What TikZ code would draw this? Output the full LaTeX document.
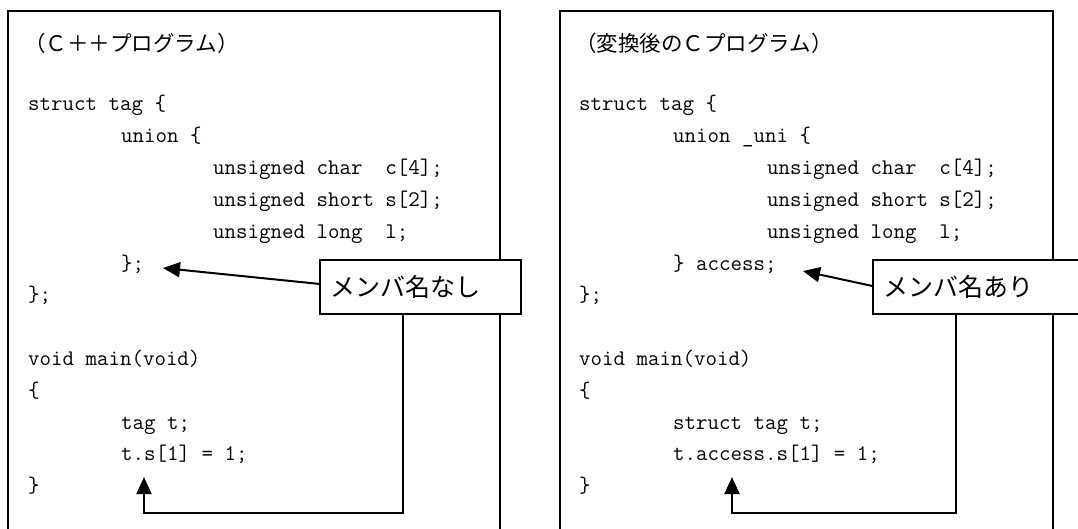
\documentclass[tikz,border=0pt]{standalone}
\usepackage{fontspec}
\newfontfamily\jp{Noto Sans CJK JP}
\usetikzlibrary{arrows.meta}
\begin{document}
\begin{tikzpicture}[x=1pt,y=-1pt,
  code/.style={anchor=base west, inner sep=0pt, font=\fontsize{22.3}{26}\selectfont\ttfamily},
  ttl/.style={anchor=base west, inner sep=0pt, font=\fontsize{21.5}{24}\selectfont\jp},
  panel/.style={draw, line width=1.8pt, anchor=north west, minimum height=560pt, inner sep=0pt},
  callout/.style={draw, fill=white, line width=1.8pt, anchor=north west, minimum height=54pt,
    inner xsep=11pt, inner ysep=0pt, align=left, font=\fontsize{25}{30}\selectfont\jp},
  conn/.style={line width=2pt},
  arr/.style={conn, -{Triangle[length=17pt,width=15pt]}}
]
\useasboundingbox (0,0) rectangle (1078,529);
\fill[white] (0,0) rectangle (1078,529);

% panels
\node[panel, minimum width=492pt] (Lpanel) at (7,10) {};
\node[panel, minimum width=493pt] (Rpanel) at (559,10) {};

% left program
\node[ttl] (Lt) at (24,52) {（Ｃ＋＋プログラム）};
\node[code] (L0) at (28,111) {struct\ tag\ \{};
\node[code] (L1) at (121,142.8) {union\ \{};
\node[code] (L2) at (213,174.6) {unsigned\ char\ \ c[4];};
\node[code] (L3) at (213,206.4) {unsigned\ short\ s[2];};
\node[code] (L4) at (213,238.2) {unsigned\ long\ \ l;};
\node[code] (L5) at (121,270) {\};};
\node[code] (L6) at (28,301.8) {\};};
\node[code] (L8) at (28,365.4) {void\ main(void)};
\node[code] (L9) at (28,397.2) {\{};
\node[code] (L10) at (121,429) {tag\ t;};
\node[code] (L11) at (121,460.8) {t.s[1]\ =\ 1;};
\node[code] (L12) at (28,492.6) {\}};

% right program
\node[ttl] (Rt) at (575,52) {（変換後のＣプログラム）};
\node[code] (R0) at (579,111) {struct\ tag\ \{};
\node[code] (R1) at (673,142.8) {union\ \_uni\ \{};
\node[code] (R2) at (767,174.6) {unsigned\ char\ \ c[4];};
\node[code] (R3) at (767,206.4) {unsigned\ short\ s[2];};
\node[code] (R4) at (767,238.2) {unsigned\ long\ \ l;};
\node[code] (R5) at (673,270) {\}\ access;};
\node[code] (R6) at (579,301.8) {\};};
\node[code] (R8) at (579,365.4) {void\ main(void)};
\node[code] (R9) at (579,397.2) {\{};
\node[code] (R10) at (673,429) {struct\ tag\ t;};
\node[code] (R11) at (673,460.8) {t.access.s[1]\ =\ 1;};
\node[code] (R12) at (579,492.6) {\}};

% callouts
\node[callout, text width=179pt] (Lcall) at (319,259) {メンバ名なし};
\node[callout, text width=190pt] (Rcall) at (872,259) {メンバ名あり};

% arrow targets
\coordinate (Ltip) at (163,268);
\coordinate (Rtip) at (803,271);
\coordinate (Lbot) at (144,477);
\coordinate (Rbot) at (732,477);
\coordinate (Lcorner) at (403,513);
\coordinate (Rcorner) at (956,513);

\draw[arr] ([yshift=3pt]Lcall.west) -- (Ltip);
\draw[arr] ([yshift=1pt]Rcall.west) -- (Rtip);
\draw[arr] (Lcall.south -| Lcorner) -- (Lcorner) -- (Lcorner -| Lbot) -- (Lbot);
\draw[arr] (Rcall.south -| Rcorner) -- (Rcorner) -- (Rcorner -| Rbot) -- (Rbot);
\end{tikzpicture}
\end{document}
